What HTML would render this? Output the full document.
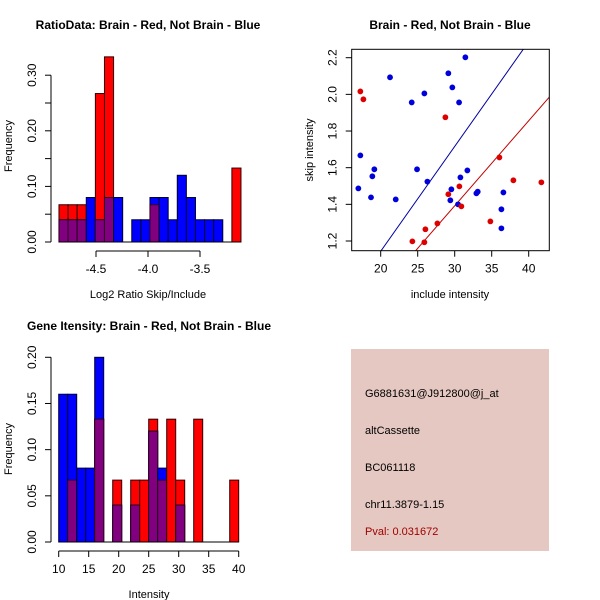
<!DOCTYPE html>
<html><head><meta charset="utf-8"><style>
body{margin:0;background:#fff}
svg{display:block;font-family:"Liberation Sans",sans-serif}
</style></head><body>
<svg id="s" width="600" height="600" viewBox="0 0 600 600">
<rect width="600" height="600" fill="#fff"/>
<text x="148" y="29" text-anchor="middle" font-size="12" font-weight="bold">RatioData: Brain - Red, Not Brain - Blue</text>
<text x="450" y="29" text-anchor="middle" font-size="12" font-weight="bold">Brain - Red, Not Brain - Blue</text>
<text x="149" y="330" text-anchor="middle" font-size="12" font-weight="bold">Gene Itensity: Brain - Red, Not Brain - Blue</text>
<text x="148" y="298" text-anchor="middle" font-size="11">Log2 Ratio Skip/Include</text>
<text x="149" y="598" text-anchor="middle" font-size="11">Intensity</text>
<text x="450" y="298" text-anchor="middle" font-size="11">include intensity</text>
<text transform="translate(12,146) rotate(-90)" text-anchor="middle" font-size="11">Frequency</text>
<text transform="translate(12,449) rotate(-90)" text-anchor="middle" font-size="11">Frequency</text>
<text transform="translate(313,150) rotate(-90)" text-anchor="middle" font-size="11">skip intensity</text>
<g>
<rect x="351" y="349" width="198" height="202" fill="#e5c8c1"/>
<text x="365" y="397" font-size="11">G6881631@J912800@j_at</text>
<text x="365" y="434" font-size="11">altCassette</text>
<text x="365" y="471" font-size="11">BC061118</text>
<text x="365" y="508" font-size="11">chr11.3879-1.15</text>
<text x="365" y="535" font-size="11" fill="#a00000">Pval: 0.031672</text>
</g>
<defs><clipPath id="cp"><rect x="351.7" y="49.3" width="197.6" height="201.4"/></clipPath></defs>
</svg>
<script>
// Ratio histogram data
const ratioStart = -4.856, ratioBinW = 0.0875;
const ratioRed  = [0.067,0.067,0.067,0,0.267,0.333,0,0,0,0,0.067,0,0,0,0,0,0,0,0,0.133];
const ratioBlue = [0.04,0.04,0.04,0.08,0.04,0.08,0.08,0,0.04,0.04,0.08,0.08,0.04,0.12,0.08,0.04,0.04,0.04,0,0];
const ratioXTicks = [-4.5,-4.0,-3.5];
const ratioXLabels = ["-4.5","-4.0","-3.5"];
const ratioYTicks = [0,0.05,0.10,0.15,0.20,0.25,0.30];
const ratioYLabels = ["0.00","","0.10","","0.20","","0.30"];
// Intensity histogram data
const intStart = 10, intBinW = 1.5;
const intRed  = [0,0.067,0,0,0.133,0,0.067,0,0.067,0.067,0.133,0.067,0.133,0.067,0,0.133,0,0,0,0.067];
const intBlue = [0.16,0.16,0.08,0.08,0.2,0,0.04,0,0.04,0,0.12,0.08,0,0.04,0,0,0,0,0,0];
const intXTicks = [10,15,20,25,30,35,40];
const intXLabels = ["10","15","20","25","30","35","40"];
const intYTicks = [0,0.05,0.10,0.15,0.20];
const intYLabels = ["0.00","0.05","0.10","0.15","0.20"];
// Scatter data
const blueX = [31.44,29.14,21.26,29.68,25.9,24.19,30.59,17.25,19.14,24.91,31.71,18.87,30.77,26.31,16.98,29.55,33.11,32.93,36.58,18.69,22.03,29.41,30.45,36.31,36.31];
const blueY = [2.202,2.115,2.093,2.038,2.005,1.956,1.956,1.667,1.591,1.591,1.585,1.553,1.547,1.524,1.487,1.482,1.469,1.46,1.465,1.438,1.427,1.422,1.4,1.373,1.269];
const redX = [17.25,17.66,28.74,36.04,37.93,41.71,30.63,29.14,30.9,34.82,27.66,26.04,24.28,25.9];
const redY = [2.016,1.973,1.875,1.656,1.531,1.52,1.498,1.455,1.389,1.307,1.296,1.264,1.198,1.193];
const blueLine = [0.0, 0.0572];
const redLine = [0.0, 0.0464];
const scXTicks = [20,25,30,35,40];
const scYTicks = [1.2,1.4,1.6,1.8,2.0,2.2];

const S = document.getElementById('s');
const NS = 'http://www.w3.org/2000/svg';
function mk(tag, attrs, parent){const e=document.createElementNS(NS,tag);for(const k in attrs)e.setAttribute(k,attrs[k]);(parent||S).appendChild(e);return e;}

function hist(red, blue, start, bw, xs, ys, xTicks, xLabels, yTicks, yLabels, axisY, prefix){
  const g = mk('g',{});
  
  
  for(let i=0;i<red.length;i++){
    const x0=xs(start+i*bw), x1=xs(start+(i+1)*bw);
    const r=red[i], b=blue[i];
    if(r>0){const e=mk('rect',{x:x0,y:ys(r),width:x1-x0,height:ys(0)-ys(r),fill:'#ff0000',stroke:'#300000','stroke-width':1},g);
      
      }
    if(b>0){const e=mk('rect',{x:x0,y:ys(b),width:x1-x0,height:ys(0)-ys(b),fill:'#0000ff',stroke:'#000030','stroke-width':1},g);
      
      }
    const m=Math.min(r,b);
    if(m>0){const e=mk('rect',{x:x0,y:ys(m),width:x1-x0,height:ys(0)-ys(m),fill:'#800080',stroke:'#300020','stroke-width':1},g);
      
      }
  }
  mk('line',{x1:xs(start),x2:xs(start+red.length*bw),y1:ys(0),y2:ys(0),stroke:'#000'},g);
  const ax = mk('g',{stroke:'#000'},g);
  
  
  mk('line',{x1:xs(xTicks[0]),x2:xs(xTicks[xTicks.length-1]),y1:axisY,y2:axisY},ax);
  xTicks.forEach((t,i)=>{mk('line',{x1:xs(t),x2:xs(t),y1:axisY,y2:axisY+6},ax);
    const tx=mk('text',{x:xs(t),y:axisY+22,'text-anchor':'middle','font-size':12,stroke:'none'},ax);tx.textContent=xLabels[i];});
  const yx=51;
  mk('line',{x1:yx,x2:yx,y1:ys(yTicks[0]),y2:ys(yTicks[yTicks.length-1])},ax);
  yTicks.forEach((t,i)=>{mk('line',{x1:yx-6,x2:yx,y1:ys(t),y2:ys(t)},ax);
    if(yLabels[i]){const tx=mk('text',{transform:`translate(${yx-15},${ys(t)}) rotate(-90)`,'text-anchor':'middle','font-size':12,stroke:'none'},ax);tx.textContent=yLabels[i];}});
}
hist(ratioRed, ratioBlue, ratioStart, ratioBinW, v=>96+(v+4.5)*104, v=>242-v*556, ratioXTicks, ratioXLabels, ratioYTicks, ratioYLabels, 251, 'ratio');
hist(intRed, intBlue, intStart, intBinW, v=>58.7+(v-10)*6, v=>542-v*923.5, intXTicks, intXLabels, intYTicks, intYLabels, 551, 'intensity');

// Scatter
const sx=v=>380.7+(v-20)*7.4, sy=v=>241-(v-1.2)*183.3;
const L=351.7,R=549.3,T=49.3,B=250.7;
const sg=mk('g',{});


[[blueLine,'#0000a0','blue-fit-line'],[redLine,'#c00000','red-fit-line']].forEach(([ln,c,n])=>{
  const xa=10,xb=50;
  const e=mk('line',{x1:sx(xa),y1:sy(ln[0]+ln[1]*xa),x2:sx(xb),y2:sy(ln[0]+ln[1]*xb),stroke:c,'stroke-width':1,'clip-path':'url(#cp)'},sg);
  
  
});
blueX.forEach((x,i)=>{const e=mk('circle',{cx:sx(x),cy:sy(blueY[i]),r:2.9,fill:'#0000dd'},sg);
  
  });
redX.forEach((x,i)=>{const e=mk('circle',{cx:sx(x),cy:sy(redY[i]),r:2.9,fill:'#dd0000'},sg);
  
  });
mk('rect',{x:L,y:T,width:R-L,height:B-T,fill:'none',stroke:'#000'},sg);
scXTicks.forEach(t=>{mk('line',{x1:sx(t),x2:sx(t),y1:B,y2:B+6,stroke:'#000'},sg);
  const tx=mk('text',{x:sx(t),y:B+22,'text-anchor':'middle','font-size':12},sg);tx.textContent=t;});
scYTicks.forEach(t=>{mk('line',{x1:L-6,x2:L,y1:sy(t),y2:sy(t),stroke:'#000'},sg);
  const tx=mk('text',{transform:`translate(${L-15},${sy(t)}) rotate(-90)`,'text-anchor':'middle','font-size':12},sg);tx.textContent=t.toFixed(1);});
</script>
</body></html>
